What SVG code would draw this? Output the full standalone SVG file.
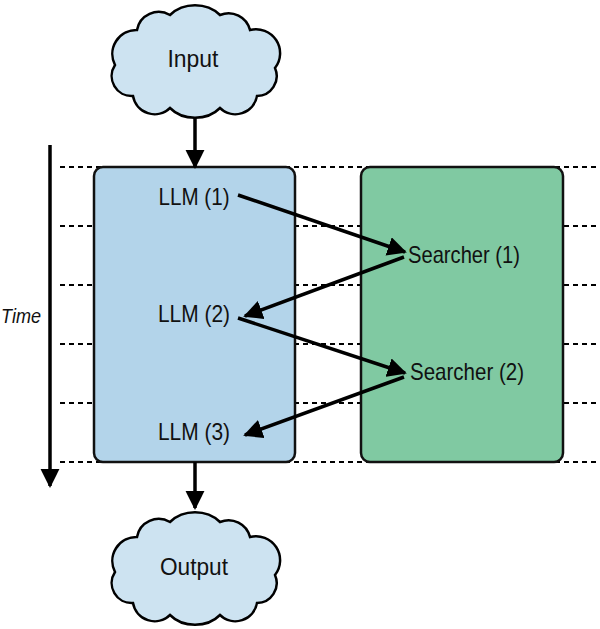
<svg xmlns="http://www.w3.org/2000/svg" width="600" height="629" viewBox="0 0 600 629">
<defs>
<style>
.lbl{font-family:"Liberation Sans",Arial,sans-serif;font-size:24px;fill:#111;text-anchor:middle;dominant-baseline:central}
.cloud{fill:#cde3f1;stroke:#000;stroke-width:2.5}
.box{stroke:#111;stroke-width:2.5}
.dash{stroke:#000;stroke-width:2.2;stroke-dasharray:5 4;fill:none}
.arr{stroke:#000;stroke-width:3.5;fill:none;marker-end:url(#ah)}
</style>
<marker id="ah" viewBox="0 0 10 10" refX="9" refY="5" markerWidth="5.5" markerHeight="5.5" orient="auto" markerUnits="strokeWidth">
<path d="M0,0 L10,5 L0,10 z" fill="#000"/>
</marker>
<path id="cloudShape" d="M-80,5 A24,24 0 0 1 -58,-30 A22,22 0 0 1 -25,-45 A34,30 0 0 1 25,-45 A22,22 0 0 1 55,-30 A24,24 0 0 1 80,8 A20,20 0 0 1 62,36 A22,22 0 0 1 25,48 A32,26 0 0 1 -25,48 A22,22 0 0 1 -62,36 A20,20 0 0 1 -80,5 Z"/>
</defs>
<rect width="600" height="629" fill="#fff"/>

<g id="gridlines">
<line class="dash" x1="60" y1="167" x2="600" y2="167"/>
<line class="dash" x1="60" y1="226" x2="600" y2="226"/>
<line class="dash" x1="60" y1="285" x2="600" y2="285"/>
<line class="dash" x1="60" y1="344" x2="600" y2="344"/>
<line class="dash" x1="60" y1="403" x2="600" y2="403"/>
<line class="dash" x1="60" y1="462" x2="600" y2="462"/>
</g>

<g id="llm-box">
<rect class="box" x="94" y="167" width="201" height="295" rx="9" fill="#b3d4ea"/>
</g>
<g id="searcher-box">
<rect class="box" x="361" y="167" width="202" height="295" rx="9" fill="#80c9a2"/>
</g>

<g id="input">
<use href="#cloudShape" class="cloud" transform="translate(195,60)"/>
<text class="lbl" x="193" y="58" textLength="51" lengthAdjust="spacingAndGlyphs">Input</text>
</g>
<g id="output">
<use href="#cloudShape" class="cloud" transform="translate(195,567)"/>
<text class="lbl" x="194" y="566" textLength="68" lengthAdjust="spacingAndGlyphs">Output</text>
</g>

<g id="time-axis">
<line x1="50" y1="145" x2="50" y2="486" stroke="#000" stroke-width="3.5" marker-end="url(#ah)"/>
<text x="21" y="315" font-family="'Liberation Sans',Arial,sans-serif" font-size="21" font-style="italic" text-anchor="middle" dominant-baseline="central" fill="#111" textLength="40" lengthAdjust="spacingAndGlyphs">Time</text>
</g>

<g id="llm1"><text class="lbl" x="194" y="196" textLength="71" lengthAdjust="spacingAndGlyphs">LLM (1)</text></g>
<g id="searcher1"><text class="lbl" x="464" y="254" textLength="112" lengthAdjust="spacingAndGlyphs">Searcher (1)</text></g>
<g id="llm2"><text class="lbl" x="194" y="313" textLength="72" lengthAdjust="spacingAndGlyphs">LLM (2)</text></g>
<g id="searcher2"><text class="lbl" x="467" y="371" textLength="114" lengthAdjust="spacingAndGlyphs">Searcher (2)</text></g>
<g id="llm3"><text class="lbl" x="194" y="431" textLength="72" lengthAdjust="spacingAndGlyphs">LLM (3)</text></g>

<g id="connectors">
<line class="arr" x1="195" y1="118" x2="195" y2="167"/>
<line class="arr" x1="238" y1="195" x2="405" y2="252"/>
<line class="arr" x1="404" y1="257" x2="245" y2="316"/>
<line class="arr" x1="238" y1="318" x2="405" y2="373"/>
<line class="arr" x1="404" y1="377" x2="245" y2="435"/>
<line class="arr" x1="195" y1="462" x2="195" y2="508"/>
</g>
</svg>
